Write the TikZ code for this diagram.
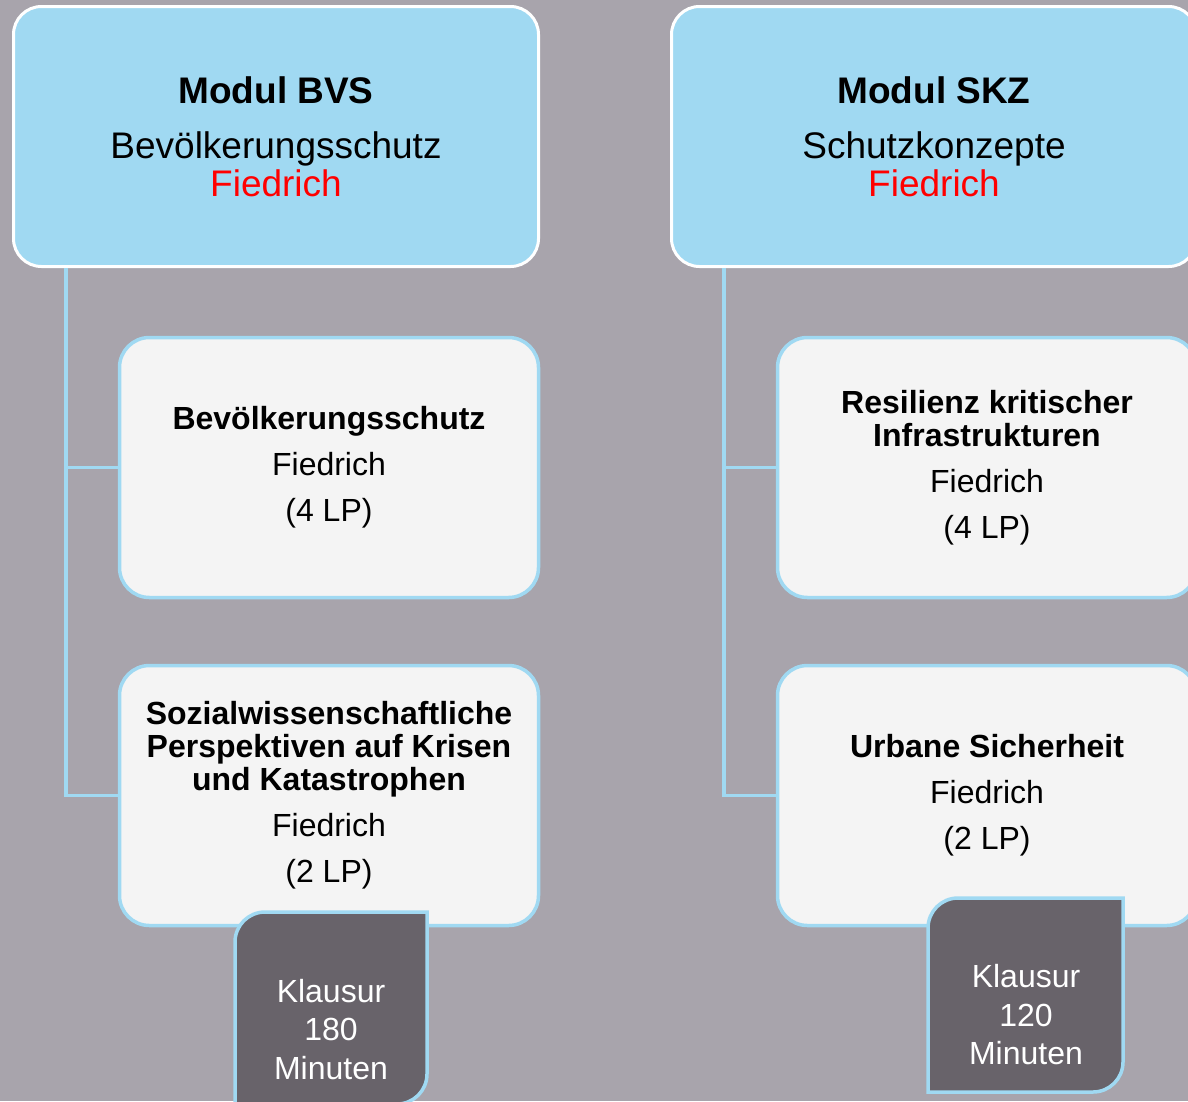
\documentclass[tikz,border=0pt]{standalone}
\usepackage{fontspec}
\setmainfont{Liberation Sans}

\definecolor{backdrop}{RGB}{168,164,172}
\definecolor{modulblue}{RGB}{160,217,242}
\definecolor{kursgrey}{RGB}{244,244,244}
\definecolor{pruefgrey}{RGB}{104,99,106}

\begin{document}
\begin{tikzpicture}[%
        x = 1pt,
        y = -1pt,
        modul/.style = {%
            draw = white,
            line width = 3pt,
            fill = modulblue,
            rounded corners = 28pt,
            minimum width = 525pt,
            minimum height = 260pt,
            align = center,
            font = \fontsize{37}{38}\selectfont
        },
        kurs/.style = {%
            draw = modulblue,
            line width = 3.5pt,
            fill = kursgrey,
            rounded corners = 30pt,
            minimum width = 419pt,
            minimum height = 260pt,
            align = center,
            font = \fontsize{32}{33}\selectfont
        },
        pruefung/.style = {%
            draw = modulblue,
            line width = 3.5pt,
            fill = pruefgrey
        },
        pruefungtext/.style = {%
            text = white,
            align = center,
            font = \fontsize{32}{38.5}\selectfont
        },
        ast/.style = {%
            draw = modulblue,
            line width = 3.5pt
        }
    ]

        % Page size and the grey backdrop.
        \useasboundingbox (0, 0) rectangle (1188, 1101);
        \clip (0, 0) rectangle (1188, 1101);
        \fill[backdrop] (0, 0) rectangle (1188, 1101);

        % Module BVS on the left.
        \node[modul] (modulBVS) at (276, 136.5)
            {\textbf{Modul BVS}\\[17pt] Bevölkerungsschutz\\ \textcolor{red}{Fiedrich}};

        \node[kurs] (kursBVSa) at (329, 467.5)
            {\textbf{Bevölkerungsschutz}\\[13pt] Fiedrich\\[13pt] (4 LP)};
        \node[kurs] (kursBVSb) at (329, 795.5)
            {\textbf{Sozialwissenschaftliche}\\ \textbf{Perspektiven auf Krisen}\\
             \textbf{und Katastrophen}\\[13pt] Fiedrich\\[13pt] (2 LP)};

        % Branches from the module down to its courses.
        \draw[ast] ([xshift = 54pt]modulBVS.south west) |- (kursBVSa.west);
        \draw[ast] ([xshift = 54pt]modulBVS.south west) |- (kursBVSb.west);

        % Module SKZ on the right.
        \node[modul] (modulSKZ) at (934, 136.5)
            {\textbf{Modul SKZ}\\[17pt] Schutzkonzepte\\ \textcolor{red}{Fiedrich}};

        \node[kurs] (kursSKZa) at (987, 467.5)
            {\textbf{Resilienz kritischer}\\ \textbf{Infrastrukturen}\\[13pt] Fiedrich\\[13pt] (4 LP)};
        \node[kurs] (kursSKZb) at (987, 795.5)
            {\textbf{Urbane Sicherheit}\\[13pt] Fiedrich\\[13pt] (2 LP)};

        \draw[ast] ([xshift = 54pt]modulSKZ.south west) |- (kursSKZa.west);
        \draw[ast] ([xshift = 54pt]modulSKZ.south west) |- (kursSKZb.west);

        % Exam tabs, rounded only at top left and bottom right.
        \draw[pruefung] (235, 1104) [rounded corners = 30pt] -- (235, 912)
            [sharp corners] -- (427, 912) [rounded corners = 30pt] -- (427, 1104)
            [sharp corners] -- cycle;
        \node[pruefungtext] (pruefungBVS) at (331, 1029.5) {Klausur\\ 180\\ Minuten};

        \draw[pruefung] (928, 1092) [rounded corners = 30pt] -- (928, 898)
            [sharp corners] -- (1123, 898) [rounded corners = 30pt] -- (1123, 1092)
            [sharp corners] -- cycle;
        \node[pruefungtext] (pruefungSKZ) at (1026, 1015) {Klausur\\ 120\\ Minuten};
    \end{tikzpicture}
\end{document}
